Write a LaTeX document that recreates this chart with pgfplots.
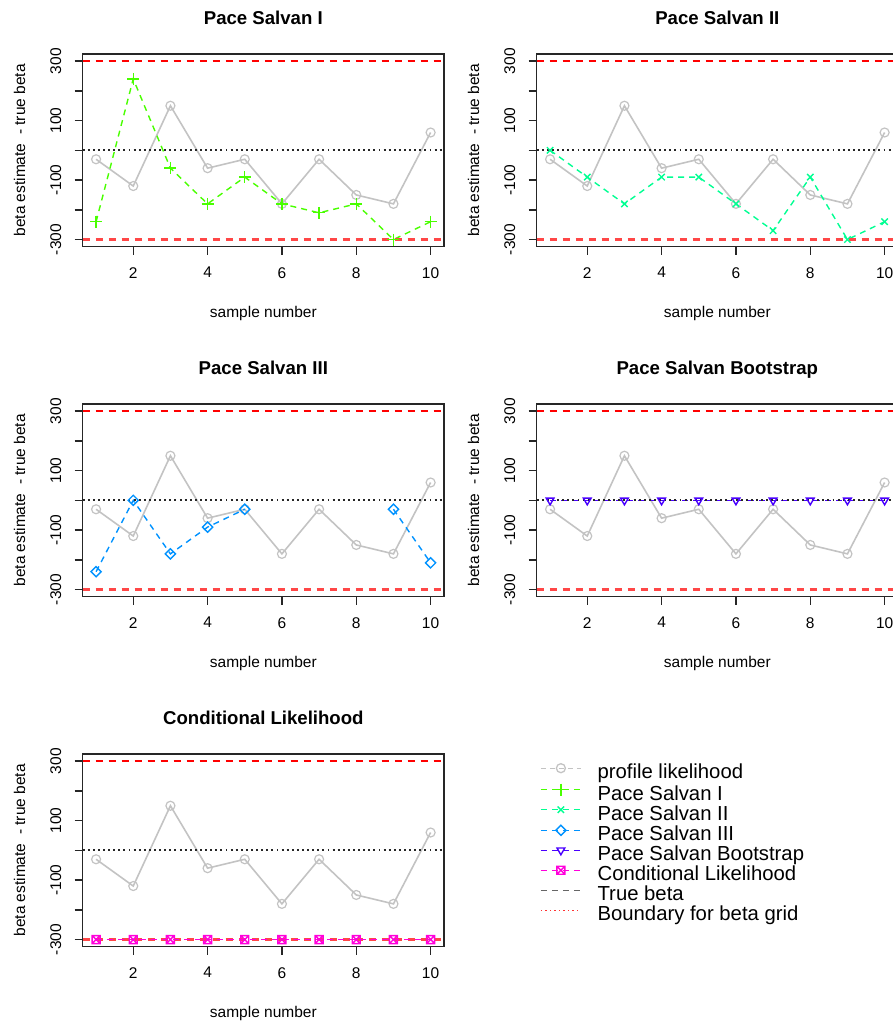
\documentclass[border=0pt]{standalone}
\usepackage{fontspec}
\setmainfont{Liberation Sans}
\usepackage{pgfplots}
\usepackage{pgfplotstable}
\pgfplotsset{compat=1.18}
\definecolor{profc}{RGB}{195,195,195}
\definecolor{psone}{HTML}{49FF00}
\definecolor{pstwo}{HTML}{00FF92}
\definecolor{psthree}{HTML}{0092FF}
\definecolor{psboot}{HTML}{4900FF}
\definecolor{cond}{HTML}{FF00DB}
\definecolor{lowred}{RGB}{255,70,70}
\newcommand\fs{\fontsize{15.5}{18}\selectfont}
\pgfdeclareplotmark{boxx}{%
 \pgfpathrectangle{\pgfqpoint{-\pgfplotmarksize}{-\pgfplotmarksize}}{\pgfqpoint{2\pgfplotmarksize}{2\pgfplotmarksize}}%
 \pgfpathmoveto{\pgfqpoint{-\pgfplotmarksize}{-\pgfplotmarksize}}\pgfpathlineto{\pgfqpoint{\pgfplotmarksize}{\pgfplotmarksize}}%
 \pgfpathmoveto{\pgfqpoint{-\pgfplotmarksize}{\pgfplotmarksize}}\pgfpathlineto{\pgfqpoint{\pgfplotmarksize}{-\pgfplotmarksize}}%
 \pgfusepathqstroke}

\pgfplotstableread{
x prof ps1 ps2 ps3 boot cond
1 -30 -240 0 -240 0 -300
2 -120 240 -90 0 0 -300
3 150 -60 -180 -180 0 -300
4 -60 -180 -90 -90 0 -300
5 -30 -90 -90 -30 0 -300
6 -180 -180 -180 nan 0 -300
7 -30 -210 -270 nan 0 -300
8 -150 -180 -90 nan 0 -300
9 -180 -300 -300 -30 0 -300
10 60 -240 -240 -210 0 -300
}\datatable

\pgfplotstableread{
x lo mid hi
0.64 -300 0 300
10.36 -300 0 300
}\boundtable

\pgfplotsset{
 panel/.style={
  scale only axis, width=361.3pt, height=192.7pt,
  xmin=0.64, xmax=10.36, ymin=-324, ymax=324,
  axis line style={line width=1.4pt, black!85},
  xtick={2,4,6,8,10}, ytick={-300,-200,-100,0,100,200,300},
  yticklabels={-300,,-100,,100,,300},
  tick align=outside, xtick pos=bottom, ytick pos=left,
  major tick length=8pt, tick style={line width=1.4pt, black!85},
  ticklabel style={font=\fs},
  /pgf/number format/assume math mode=true,
  yticklabel style={rotate=90, anchor=near yticklabel},
  xticklabel shift=9pt, yticklabel shift=10pt,
  unbounded coords=jump,
  title style={font=\bfseries\fontsize{18.6}{20}\selectfont, at={(axis description cs:0.5,1.122)}, anchor=base},
  xlabel={sample number}, ylabel={beta estimate\ \ - true beta},
  label style={font=\fs},
  xlabel style={at={(axis description cs:0.5,-0.370)}, anchor=base},
  ylabel style={at={(axis description cs:-0.1597,0.5)}, anchor=base},
 },
 profst/.style={color=profc, line width=1.6pt, mark=o, mark size=4.5pt, every mark/.append style={solid, line width=1.2pt}},
 meth/.style={color=#1, line width=1.4pt, dash pattern=on 6pt off 5pt, every mark/.append style={solid, line width=1.4pt}},
 truest/.style={color=black!85, line width=1.9pt, dash pattern=on 1.9pt off 3.2pt},
 boundst/.style={draw=#1, line width=1.6pt, dash pattern=on 7pt off 6pt, mark=none},
 lowst/.style={draw=lowred, line width=2.4pt, dash pattern=on 7pt off 6pt, mark=none},
}
\newcommand\common{%
 \addplot[profst] table[x=x,y=prof]{\datatable};
}
\newcommand\refl{%
 \addplot[truest] table[x=x,y=mid]{\boundtable};
 \addplot[boundst=red] table[x=x,y=hi]{\boundtable};
 \addplot[lowst] table[x=x,y=lo]{\boundtable};
}

\begin{document}
\begin{tikzpicture}
\begin{axis}[panel, at={(82.7pt,774.3pt)}, anchor=south west, title={Pace Salvan I}]
 \common
 \addplot[meth=psone, mark=+, mark size=6pt] table[x=x,y=ps1]{\datatable};
 \refl
\end{axis}
\begin{axis}[panel, at={(536.7pt,774.3pt)}, anchor=south west, title={Pace Salvan II}]
 \common
 \addplot[meth=pstwo, mark=x, mark size=4.5pt] table[x=x,y=ps2]{\datatable};
 \refl
\end{axis}
\begin{axis}[panel, at={(82.7pt,424.3pt)}, anchor=south west, title={Pace Salvan III}]
 \common
 \addplot[meth=psthree, mark=square, mark size=3.6pt, every mark/.append style={rotate=45}] table[x=x,y=ps3]{\datatable};
 \refl
\end{axis}
\begin{axis}[panel, at={(536.7pt,424.3pt)}, anchor=south west, title={Pace Salvan Bootstrap}]
 \common
 \addplot[meth=psboot, mark=triangle, mark size=4.5pt, every mark/.append style={rotate=180}] table[x=x,y=boot]{\datatable};
 \refl
\end{axis}
\begin{axis}[panel, at={(82.7pt,74.3pt)}, anchor=south west, title={Conditional Likelihood},
  legend style={at={(axis description cs:1.2657,0.9507)}, anchor=north west, draw=none, fill=none,
    font=\fontsize{20.3}{20}\selectfont, row sep=0pt, inner sep=0pt,
    nodes={inner sep=0pt, text height=15pt, text depth=5pt},
    /tikz/every odd column/.append style={column sep=16pt}},
  legend cell align=left,
  legend image code/.code={\draw[mark repeat=2,mark phase=2,#1] plot coordinates {(0pt,5.5pt) (20pt,5.5pt) (40pt,5.5pt)};}]
 \addlegendimage{color=profc, line width=1.3pt, dash pattern=on 5pt off 4pt, mark=o, mark size=4.5pt, every mark/.append style={solid}}
 \addlegendentry{profile likelihood}
 \addlegendimage{meth=psone, mark=+, mark size=6pt}
 \addlegendentry{Pace Salvan I}
 \addlegendimage{meth=pstwo, mark=x, mark size=4.5pt}
 \addlegendentry{Pace Salvan II}
 \addlegendimage{meth=psthree, mark=square, mark size=3.6pt, every mark/.append style={rotate=45}}
 \addlegendentry{Pace Salvan III}
 \addlegendimage{meth=psboot, mark=triangle, mark size=4.5pt, every mark/.append style={rotate=180}}
 \addlegendentry{Pace Salvan Bootstrap}
 \addlegendimage{meth=cond, mark=boxx, mark size=4pt}
 \addlegendentry{Conditional Likelihood}
 \addlegendimage{color=black!60, line width=1.4pt, dash pattern=on 6pt off 5pt}
 \addlegendentry{True beta}
 \addlegendimage{color=red!80, line width=1.4pt, dash pattern=on 1.5pt off 3pt}
 \addlegendentry{Boundary for beta grid}
 \addplot[profst, forget plot] table[x=x,y=prof]{\datatable};
 \addplot[truest, forget plot] table[x=x,y=mid]{\boundtable};
 \addplot[boundst=red, forget plot] table[x=x,y=hi]{\boundtable};
 \addplot[lowst, forget plot] table[x=x,y=lo]{\boundtable};
 \addplot[meth=cond, mark=boxx, mark size=4pt, forget plot] table[x=x,y=cond]{\datatable};
\end{axis}
\pgfresetboundingbox
\useasboundingbox (0,0) rectangle (893pt,1021pt);
\end{tikzpicture}
\end{document}
